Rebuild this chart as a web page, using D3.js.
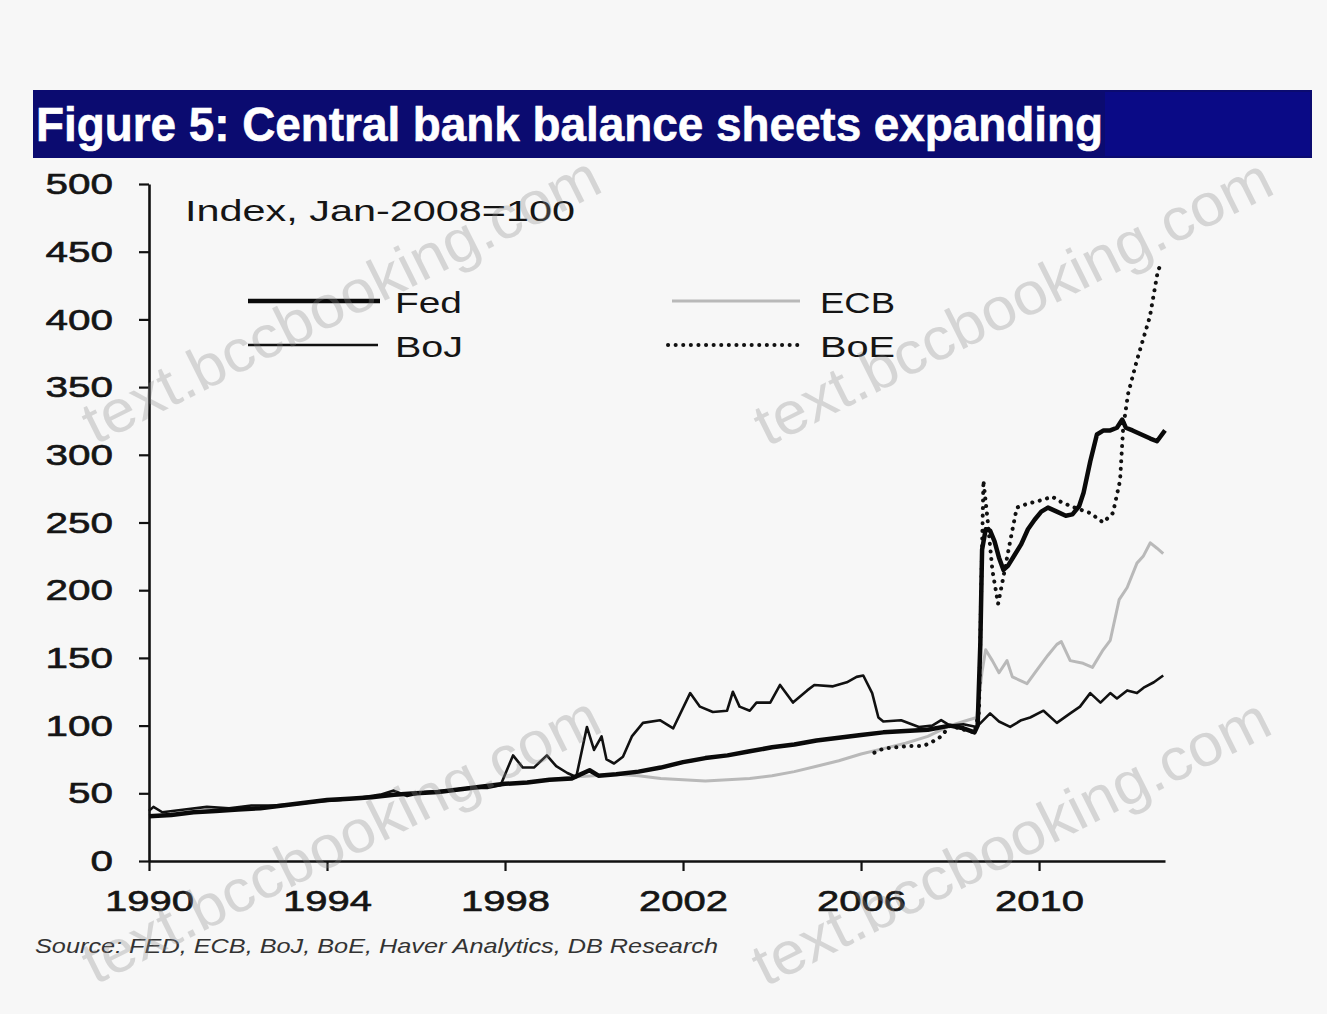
<!DOCTYPE html>
<html>
<head>
<meta charset="utf-8">
<script src="https://cdn.jsdelivr.net/npm/d3@7/dist/d3.min.js"></script>
<style>
  html, body { margin: 0; padding: 0; background: #f7f7f7; }
  svg { display: block; font-family: "Liberation Sans", Arial, sans-serif; }
</style>
</head>
<body>
<svg id="chart" width="1327" height="1014"></svg>
<script>
// ---------- data (Index, Jan-2008 = 100) ----------
const titleText = "Figure 5: Central bank balance sheets expanding";
const unitText = "Index, Jan-2008=100";
const sourceText = "Source: FED, ECB, BoJ, BoE, Haver Analytics, DB Research";
const yTicks = [0, 50, 100, 150, 200, 250, 300, 350, 400, 450, 500];
const xTicks = [1990, 1994, 1998, 2002, 2006, 2010];
const seriesNames = ["Fed", "BoJ", "ECB", "BoE"];

const fed = [
  [1990.0,33],[1990.5,34],[1991.0,36],[1991.5,37],[1992.0,38],[1992.5,39],[1993.0,41],[1993.5,43],
  [1994.0,45],[1994.5,46],[1995.0,47],[1995.5,49],[1996.0,50],[1996.5,51],[1997.0,53],[1997.5,55],
  [1998.0,57],[1998.5,58],[1999.0,60],[1999.5,61],[1999.9,67],[2000.1,63],[2000.5,64],[2001.0,66],
  [2001.5,69],[2002.0,73],[2002.5,76],[2003.0,78],[2003.5,81],[2004.0,84],[2004.5,86],[2005.0,89],
  [2005.5,91],[2006.0,93],[2006.5,95],[2007.0,96],[2007.5,97],[2008.0,100],[2008.3,98],[2008.55,95],
  [2008.62,100],[2008.68,160],[2008.72,230],[2008.8,245],[2008.9,244],[2009.0,236],[2009.1,224],
  [2009.2,215],[2009.3,218],[2009.45,226],[2009.6,234],[2009.75,245],[2009.9,252],[2010.05,258],
  [2010.2,261],[2010.4,258],[2010.6,255],[2010.75,256],[2010.9,262],[2011.0,272],[2011.15,295],
  [2011.3,315],[2011.45,318],[2011.6,318],[2011.75,320],[2011.87,326],[2011.95,320],[2012.1,318],
  [2012.3,315],[2012.5,312],[2012.65,310],[2012.83,318]
];
const boj = [
  [1990.0,37],[1990.1,40],[1990.3,36],[1990.8,38],[1991.3,40],[1991.8,39],[1992.3,41],[1992.8,41],
  [1993.3,42],[1993.8,44],[1994.3,45],[1994.8,47],[1995.2,49],[1995.5,52],[1995.8,48],[1996.2,51],
  [1996.7,52],[1997.2,54],[1997.6,54],[1997.9,56],[1998.18,78],[1998.4,69],[1998.65,69],[1998.94,78],
  [1999.15,70],[1999.4,65],[1999.6,62],[1999.84,99],[2000.0,82],[2000.17,92],[2000.28,75],[2000.45,72],
  [2000.65,77],[2000.85,92],[2001.1,102],[2001.48,104],[2001.78,98],[2002.16,124],[2002.38,114],
  [2002.67,110],[2002.99,111],[2003.12,125],[2003.27,114],[2003.5,111],[2003.65,117],[2003.96,117],
  [2004.18,130],[2004.47,117],[2004.79,126],[2004.95,130],[2005.37,129],[2005.68,132],[2005.9,136],
  [2006.05,137],[2006.25,124],[2006.39,106],[2006.5,103],[2006.9,104],[2007.3,99],[2007.6,100],
  [2007.8,104],[2008.0,100],[2008.3,101],[2008.6,99],[2008.9,109],[2009.1,103],[2009.35,99],
  [2009.6,104],[2009.8,106],[2010.1,111],[2010.4,102],[2010.7,109],[2010.92,114],[2011.15,124],
  [2011.38,117],[2011.6,124],[2011.75,120],[2011.98,126],[2012.2,124],[2012.35,128],[2012.58,132],
  [2012.79,137]
];
const ecb = [
  [1999.0,60],[1999.5,62],[2000.0,63],[2000.5,64],[2001.0,63],[2001.5,61],[2002.0,60],[2002.5,59],
  [2003.0,60],[2003.5,61],[2004.0,63],[2004.5,66],[2005.0,70],[2005.5,74],[2006.0,79],[2006.5,83],
  [2007.0,87],[2007.5,92],[2008.0,100],[2008.3,103],[2008.6,106],[2008.72,140],[2008.8,156],
  [2008.95,148],[2009.1,139],[2009.28,148],[2009.4,136],[2009.73,131],[2009.95,141],[2010.2,152],
  [2010.4,160],[2010.5,162],[2010.7,148],[2010.99,146],[2011.2,143],[2011.44,156],[2011.6,163],
  [2011.8,193],[2011.98,202],[2012.2,220],[2012.34,225],[2012.5,235],[2012.65,231],[2012.79,227]
];
const boe = [
  [2006.3,80],[2006.5,83],[2006.8,84],[2007.1,85],[2007.4,85],[2007.6,88],[2007.8,92],[2008.0,100],
  [2008.3,97],[2008.55,95],[2008.65,110],[2008.7,200],[2008.75,281],[2008.85,250],[2008.95,215],
  [2009.08,190],[2009.2,210],[2009.35,236],[2009.5,261],[2009.75,264],[2010.0,266],[2010.3,269],
  [2010.5,265],[2010.8,261],[2011.15,257],[2011.44,250],[2011.66,257],[2011.82,281],[2011.89,320],
  [2012.0,345],[2012.2,370],[2012.49,402],[2012.67,436],[2012.76,442]
];

// ---------- layout ----------
const svg = d3.select("#chart");
const W = 1327, H = 1014;
svg.append("rect").attr("width", W).attr("height", H).attr("fill", "#f7f7f7");

// title bar
svg.append("rect").attr("x", 33).attr("y", 90).attr("width", 1279).attr("height", 68)
  .attr("fill", "#0b0b70");
svg.append("rect").attr("x", 1105).attr("y", 92).attr("width", 205).attr("height", 64)
  .attr("fill", "#0a0a86");
svg.append("text").attr("x", 36).attr("y", 141)
  .attr("fill", "#ffffff").attr("font-size", 48).attr("font-weight", "bold")
  .attr("stroke", "#ffffff").attr("stroke-width", 0.6)
  .attr("textLength", 1067).attr("lengthAdjust", "spacingAndGlyphs")
  .text(titleText);

const x = d3.scaleLinear().domain([1990, 2012.83]).range([149, 1165]);
const y = d3.scaleLinear().domain([0, 500]).range([861, 184]);

// axes
const yAxis = svg.append("g").attr("transform", "translate(149,0)")
  .call(d3.axisLeft(y).tickValues(yTicks).tickSize(10).tickSizeOuter(0).tickPadding(26));
const xAxis = svg.append("g").attr("transform", "translate(0,861)")
  .call(d3.axisBottom(x).tickValues(xTicks).tickFormat(d3.format("d")).tickSize(10).tickSizeOuter(0).tickPadding(19));
[yAxis, xAxis].forEach(g => {
  g.select(".domain").attr("stroke", "#111").attr("stroke-width", 2.6);
  g.selectAll(".tick line").attr("stroke", "#111").attr("stroke-width", 2.2);
  g.selectAll(".tick text").attr("fill", "#151515").attr("font-size", 30)
    .attr("font-family", "'Liberation Sans', Arial, sans-serif")
    .attr("stroke", "#151515").attr("stroke-width", 0.6)
    .attr("lengthAdjust", "spacingAndGlyphs");
});
yAxis.selectAll(".tick text").attr("textLength", d => String(d).length * 22.5);
xAxis.selectAll(".tick text").attr("textLength", 89);

// unit label
svg.append("text").attr("x", 185).attr("y", 221).attr("font-size", 29).attr("fill", "#151515")
  .attr("textLength", 390).attr("lengthAdjust", "spacingAndGlyphs").text(unitText);

// lines
const line = d3.line().x(d => x(d[0])).y(d => y(d[1]));
const styles = {
  ECB: { data: ecb, stroke: "#b9b9b9", width: 3, dash: null, cap: "butt" },
  BoJ: { data: boj, stroke: "#111", width: 2.6, dash: null, cap: "butt" },
  BoE: { data: boe, stroke: "#111", width: 4, dash: "0.1,7.5", cap: "round" },
  Fed: { data: fed, stroke: "#0a0a0a", width: 4.5, dash: null, cap: "butt" }
};
["ECB", "BoJ", "BoE", "Fed"].forEach(k => {
  const s = styles[k];
  svg.append("path").datum(s.data).attr("d", line)
    .attr("fill", "none").attr("stroke", s.stroke).attr("stroke-width", s.width)
    .attr("stroke-linejoin", "round").attr("stroke-linecap", s.cap)
    .attr("stroke-dasharray", s.dash);
});

// legend
const legendPos = {
  Fed: { x1: 248, x2: 380, y: 301, tx: 395, tl: 67 },
  BoJ: { x1: 248, x2: 378, y: 345, tx: 395, tl: 68 },
  ECB: { x1: 672, x2: 800, y: 301, tx: 820, tl: 75 },
  BoE: { x1: 668, x2: 800, y: 345, tx: 820, tl: 75 }
};
seriesNames.forEach(k => {
  const p = legendPos[k], s = styles[k];
  svg.append("line").attr("x1", p.x1).attr("x2", p.x2).attr("y1", p.y).attr("y2", p.y)
    .attr("stroke", s.stroke).attr("stroke-width", s.width)
    .attr("stroke-linecap", s.cap).attr("stroke-dasharray", s.dash);
  svg.append("text").attr("x", p.tx).attr("y", p.y + 12).attr("font-size", 30).attr("fill", "#151515")
    .attr("textLength", p.tl).attr("lengthAdjust", "spacingAndGlyphs").text(k);
});

// source
svg.append("text").attr("x", 35).attr("y", 953).attr("font-size", 21).attr("font-style", "italic")
  .attr("fill", "#333").attr("textLength", 683).attr("lengthAdjust", "spacingAndGlyphs")
  .text(sourceText);

// watermarks
const marks = [[350, 318], [1022, 320], [350, 858], [1020, 860]];
marks.forEach(([cx, cy]) => {
  svg.append("text").attr("transform", `translate(${cx},${cy}) rotate(-26.5)`)
    .attr("text-anchor", "middle").attr("font-size", 60).attr("fill", "#8a8a8a")
    .attr("opacity", 0.3).attr("textLength", 570).attr("lengthAdjust", "spacingAndGlyphs")
    .text("text.bccbooking.com");
});
</script>
</body>
</html>
